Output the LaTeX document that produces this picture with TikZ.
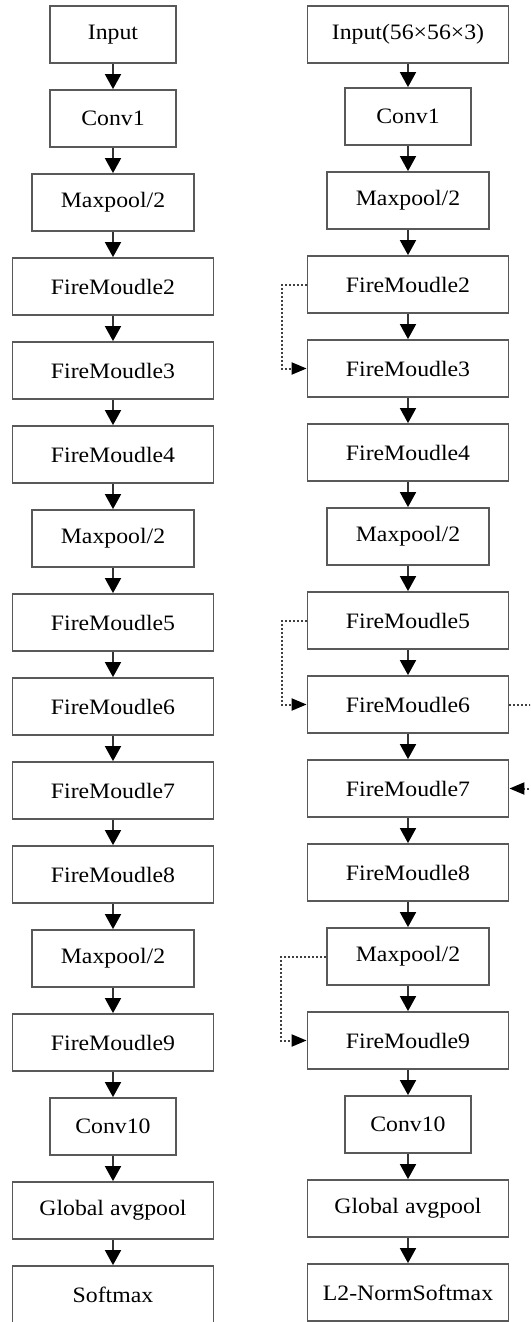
\documentclass[tikz,border=0pt]{standalone}
\usepackage{fontspec}
\setmainfont[FakeStretch=1.08]{Liberation Serif}
\usetikzlibrary{arrows.meta}
\begin{document}
\begin{tikzpicture}[x=1pt,y=-1pt,
  box/.style={draw=black!65,line width=1.8pt,inner sep=0pt,minimum height=57pt,font=\fontsize{22}{26}\selectfont},
  w1/.style={minimum width=126pt},
  w2/.style={minimum width=162pt},
  w3/.style={minimum width=201pt},
  arr/.style={draw=black!80,line width=1.8pt,-{Triangle[width=16pt,length=15pt,color=black]}},
  skip/.style={draw=black!75,line width=2pt,dash pattern=on 2pt off 2pt,-{Triangle[width=12pt,length=15pt,color=black]}}]
\useasboundingbox (0,0) rectangle (530,1322);
\clip (0,0) rectangle (530,1322);
% left column
\node[box,w1] (l0)  at (113,34.5)  {Input};
\node[box,w1] (l1)  at (113,118.5) {Conv1};
\node[box,w2] (l2)  at (113,202.5) {Maxpool/2};
\node[box,w3] (l3)  at (113,286.5) {FireMoudle2};
\node[box,w3] (l4)  at (113,370.5) {FireMoudle3};
\node[box,w3] (l5)  at (113,454.5) {FireMoudle4};
\node[box,w2] (l6)  at (113,538.5) {Maxpool/2};
\node[box,w3] (l7)  at (113,622.5) {FireMoudle5};
\node[box,w3] (l8)  at (113,706.5) {FireMoudle6};
\node[box,w3] (l9)  at (113,790.5) {FireMoudle7};
\node[box,w3] (l10) at (113,874.5) {FireMoudle8};
\node[box,w2] (l11) at (113,958.5) {Maxpool/2};
\node[box,w3] (l12) at (113,1042.5) {FireMoudle9};
\node[box,w1] (l13) at (113,1126.5) {Conv10};
\node[box,w3] (l14) at (113,1210.5) {Global avgpool};
\node[box,w3] (l15) at (113,1294.5) {Softmax};
\foreach \a/\b in {l0/l1,l1/l2,l2/l3,l3/l4,l4/l5,l5/l6,l6/l7,l7/l8,l8/l9,l9/l10,l10/l11,l11/l12,l12/l13,l13/l14,l14/l15}
  \draw[arr] (\a.south) -- (\b.north);
% right column
\node[box,w3] (r0)  at (408,34.5)  {Input(56×56×3)};
\node[box,w1] (r1)  at (408,116.5) {Conv1};
\node[box,w2] (r2)  at (408,200.5) {Maxpool/2};
\node[box,w3] (r3)  at (408,284.5) {FireMoudle2};
\node[box,w3] (r4)  at (408,368.5) {FireMoudle3};
\node[box,w3] (r5)  at (408,452.5) {FireMoudle4};
\node[box,w2] (r6)  at (408,536.5) {Maxpool/2};
\node[box,w3] (r7)  at (408,620.5) {FireMoudle5};
\node[box,w3] (r8)  at (408,704.5) {FireMoudle6};
\node[box,w3] (r9)  at (408,788.5) {FireMoudle7};
\node[box,w3] (r10) at (408,872.5) {FireMoudle8};
\node[box,w2] (r11) at (408,956.5) {Maxpool/2};
\node[box,w3] (r12) at (408,1040.5) {FireMoudle9};
\node[box,w1] (r13) at (408,1124.5) {Conv10};
\node[box,w3] (r14) at (408,1208.5) {Global avgpool};
\node[box,w3] (r15) at (408,1292.5) {L2-NormSoftmax};
\foreach \a/\b in {r0/r1,r1/r2,r2/r3,r3/r4,r4/r5,r5/r6,r6/r7,r7/r8,r8/r9,r9/r10,r10/r11,r11/r12,r12/r13,r13/r14,r14/r15}
  \draw[arr] (\a.south) -- (\b.north);
% skip connections
\draw[skip] (r3.west) -- ++(-25,0) |- (r4.west);
\draw[skip] (r7.west) -- ++(-25,0) |- (r8.west);
\draw[skip] (r11.west) -- ++(-45,0) |- (r12.west);
\draw[skip] (r8.east) -- ++(40,0) |- (r9.east);
\end{tikzpicture}
\end{document}
